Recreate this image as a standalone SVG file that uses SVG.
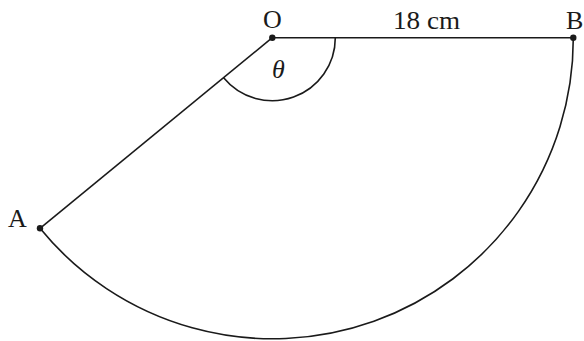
<svg xmlns="http://www.w3.org/2000/svg" width="584" height="341" viewBox="0 0 584 341">
<style>
.ln{fill:none;stroke:#1a1a1a;stroke-width:1.6}
.dot{fill:#1a1a1a}
.lbl{font-family:"Liberation Serif","Times New Roman",serif;font-size:26px;fill:#1a1a1a}
</style>
<rect width="584" height="341" fill="#ffffff"/>
<g id="connectors">
<path class="ln" d="M272.3,37.7 L573.3,37.7"/>
<path class="ln" d="M272.3,37.7 L40,228.3"/>
<path class="ln" d="M40,228.3 A300.5,300.5 0 0 0 573.3,37.7"/>
<path class="ln" d="M223.6,77.7 A63,63 0 0 0 335.3,37.7"/>
</g>
<g id="node-O">
<circle class="dot" cx="272.3" cy="37.7" r="3.2"/>
<text class="lbl" x="272.5" y="28" text-anchor="middle">O</text>
</g>
<g id="node-B">
<circle class="dot" cx="573.3" cy="37.7" r="3.2"/>
<text class="lbl" x="566" y="29">B</text>
</g>
<g id="node-A">
<circle class="dot" cx="40" cy="228.3" r="3.2"/>
<text class="lbl" x="8" y="227">A</text>
</g>
<g id="label-length">
<text class="lbl" x="393" y="28.5" font-size="27" textLength="67" lengthAdjust="spacingAndGlyphs">18 cm</text>
</g>
<g id="label-theta">
<text class="lbl" x="272" y="78" font-style="italic">θ</text>
</g>
</svg>
